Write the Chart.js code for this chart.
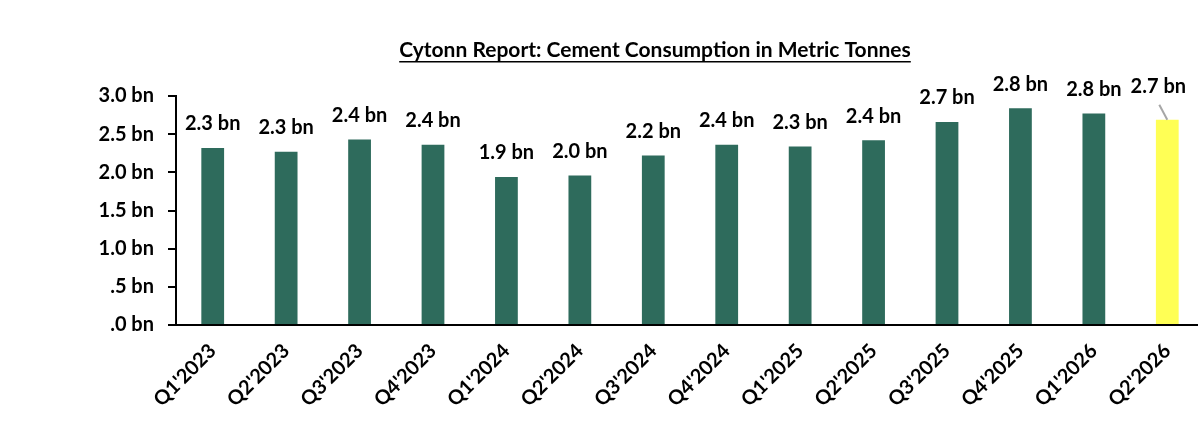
<!DOCTYPE html>
<html>
<head>
<meta charset="utf-8">
<script src="https://cdn.jsdelivr.net/npm/chart.js@4/dist/chart.umd.min.js"></script>
<style>
  html, body { margin: 0; padding: 0; background: #fff; overflow: hidden; }
  #wrap { width: 1204px; height: 446px; position: relative; }
</style>
</head>
<body>
<div id="wrap"><canvas id="c"></canvas></div>
<script>
// quarters shown on the x axis
const quarters = ["Q1'2023", "Q2'2023", "Q3'2023", "Q4'2023", "Q1'2024", "Q2'2024", "Q3'2024",
                  "Q4'2024", "Q1'2025", "Q2'2025", "Q3'2025", "Q4'2025", "Q1'2026", "Q2'2026"];
// cement consumption, billions of metric tonnes
const consumption = [2.32, 2.27, 2.43, 2.36, 1.94, 1.96, 2.22, 2.36, 2.34, 2.42, 2.66, 2.84, 2.77, 2.69];
// y axis ticks
const yTicks = [0, 0.5, 1.0, 1.5, 2.0, 2.5, 3.0];

const titleText = 'Cytonn Report: Cement Consumption in Metric Tonnes';
const font = 'Lato';
const green = '#2E6B5C';
const yellow = '#FFFF55';

function fmt(v) {
  let s = v.toFixed(1);
  if (s.startsWith('0')) s = s.slice(1);
  return s + ' bn';
}

const barColors = quarters.map((q, i) => i === quarters.length - 1 ? yellow : green);

// data labels + title drawn on top
const extras = {
  id: 'extras',
  afterDatasetsDraw(chart) {
    const ctx = chart.ctx;
    const meta = chart.getDatasetMeta(0);
    ctx.save();
    ctx.fillStyle = '#000';
    ctx.font = 'bold 20px ' + font;
    ctx.textAlign = 'center';
    ctx.textBaseline = 'middle';
    meta.data.forEach((bar, i) => {
      let x = bar.x, y = bar.y - 24;
      if (i === meta.data.length - 1) {
        // label pulled up-left with a leader line, like the original
        x = bar.x - 9; y = bar.y - 33;
        ctx.strokeStyle = '#A6A6A6';
        ctx.lineWidth = 2;
        ctx.beginPath();
        ctx.moveTo(bar.x - 8, bar.y - 15);
        ctx.lineTo(bar.x, bar.y);
        ctx.stroke();
      }
      ctx.fillText(fmt(consumption[i]), x, y);
    });

    // title, bold + underlined
    ctx.font = 'bold 21px ' + font;
    const tx = 655, ty = 50;
    ctx.fillText(titleText, tx, ty);
    const w = ctx.measureText(titleText).width;
    ctx.fillRect(tx - w / 2, ty + 11, w, 1.5);
    ctx.restore();
  }
};

new Chart(document.getElementById('c'), {
  type: 'bar',
  data: {
    labels: quarters,
    datasets: [{
      data: consumption,
      backgroundColor: barColors,
      barPercentage: 0.31,
      categoryPercentage: 1.0
    }]
  },
  options: {
    responsive: true,
    maintainAspectRatio: false,
    animation: false,
    layout: { padding: { top: 96, left: 0, right: 0, bottom: 0 } },
    plugins: {
      legend: { display: false },
      title: { display: false },
      tooltip: { enabled: false }
    },
    scales: {
      x: {
        grid: { display: false, drawOnChartArea: false, drawTicks: true, tickLength: 8, offset: true, color: '#000', lineWidth: 2 },
        border: { display: true, color: '#000', width: 2 },
        ticks: {
          color: '#000',
          font: { family: font, weight: 'bold', size: 20 },
          maxRotation: 45,
          minRotation: 45,
          padding: 6,
          autoSkip: false
        },
        afterFit(scale) { scale.height = 121; }
      },
      y: {
        min: 0,
        max: 3.0,
        afterBuildTicks(scale) { scale.ticks = yTicks.map(v => ({ value: v })); },
        grid: { drawOnChartArea: false, drawTicks: true, tickLength: 8, color: '#000', lineWidth: 2 },
        border: { display: true, color: '#000', width: 2 },
        ticks: {
          color: '#000',
          font: { family: font, weight: 'bold', size: 20 },
          padding: 14,
          callback: v => fmt(v)
        },
        afterFit(scale) { scale.width = 176; }
      }
    }
  },
  plugins: [extras]
});
</script>
</body>
</html>
